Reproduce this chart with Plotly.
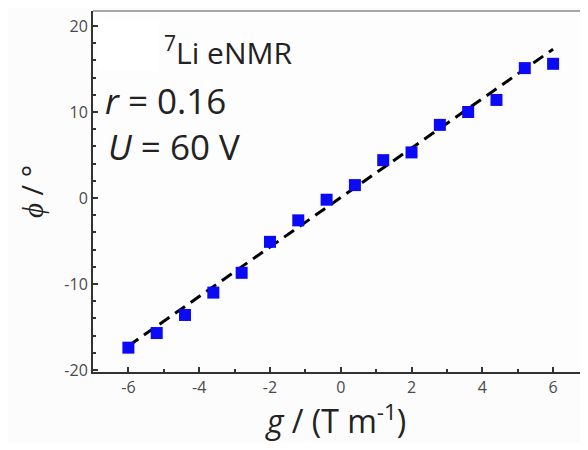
import plotly.graph_objects as go

g_vals = [-6.0, -5.2, -4.4, -3.6, -2.8, -2.0, -1.2, -0.4, 0.4, 1.2, 2.0, 2.8, 3.6, 4.4, 5.2, 6.0]
phi_vals = [-17.4, -15.7, -13.6, -11.0, -8.7, -5.1, -2.6, -0.2, 1.5, 4.4, 5.3, 8.5, 10.0, 11.4, 15.1, 15.6]
fit_g = [-6.0, 6.0]
fit_phi = [-17.2, 17.3]
xtick_vals = [-6, -4, -2, 0, 2, 4, 6]
xtick_text = ["-6", "-4", "-2", "0", "2", "4", "6"]
ytick_vals = [-20, -10, 0, 10, 20]
ytick_text = ["-20", "-10", "0", "10", "20"]

FONT = "Open Sans"

fig = go.Figure()
fig.add_trace(go.Scatter(x=fit_g, y=fit_phi, mode="lines",
                         line=dict(color="black", width=3, dash="12px,7px"),
                         showlegend=False, hoverinfo="skip"))
fig.add_trace(go.Scatter(x=g_vals, y=phi_vals, mode="markers",
                         marker=dict(symbol="square", size=12, color="#0a0af5",
                                     line=dict(width=0)),
                         showlegend=False))

# page body has an 8px margin: size figure so the page does not overflow
fig.update_layout(
    width=572, height=434,
    margin=dict(l=85, r=0, t=3, b=70),
    paper_bgcolor="#fcfcfc", plot_bgcolor="#fdfdfd",
    font=dict(family=FONT, color="#222"),
    xaxis=dict(range=[-7, 6.76], tickvals=xtick_vals, ticktext=xtick_text,
               ticks="inside", ticklen=5, tickwidth=1.5, tickcolor="#333",
               minor=dict(dtick=1, ticks="inside", ticklen=3, tickcolor="#333"),
               showline=True, linecolor="#333", linewidth=2,
               showgrid=False, zeroline=False,
               tickfont=dict(size=16, color="#4a4a4a", family=FONT),
               title=dict(text="<i>g</i> / (T m<sup>-1</sup>)", font=dict(size=32, color="#222"),
                          standoff=4)),
    yaxis=dict(range=[-20.23, 21.74], tickvals=ytick_vals, ticktext=ytick_text,
               ticks="inside", ticklen=5, tickwidth=1.5, tickcolor="#333",
               minor=dict(dtick=2, ticks="inside", ticklen=3, tickcolor="#333"),
               showline=True, linecolor="#333", linewidth=2,
               showgrid=False, zeroline=False,
               tickfont=dict(size=16, color="#4a4a4a", family=FONT),
               title=dict(text="<i>ϕ</i> / °", font=dict(size=29, color="#222"),
                          standoff=12)),
)

# lighter top frame line
fig.add_shape(type="line", xref="paper", yref="paper", x0=0, x1=1, y0=1, y1=1,
              line=dict(color="#8a8a8a", width=1.5))

fig.add_shape(type="rect", xref="paper", yref="paper",
              x0=0.01, x1=0.135, y0=0.835, y1=0.975,
              fillcolor="white", line=dict(width=0), layer="below")

fig.add_annotation(text="<sup>7</sup>Li eNMR", xref="paper", yref="paper",
                   x=(162 - 93) / 487, y=(372 - 51) / 361, xanchor="left", yanchor="middle",
                   showarrow=False, font=dict(size=30, color="#222"))
fig.add_annotation(text="<i>r</i> = 0.16", xref="paper", yref="paper",
                   x=(103 - 93) / 487, y=(372 - 101) / 361, xanchor="left", yanchor="middle",
                   showarrow=False, font=dict(size=35, color="#222"))
fig.add_annotation(text="<i>U</i> = 60 V", xref="paper", yref="paper",
                   x=(106 - 93) / 487, y=(372 - 146) / 361, xanchor="left", yanchor="middle",
                   showarrow=False, font=dict(size=35, color="#222"))

fig.write_html("out.html")
